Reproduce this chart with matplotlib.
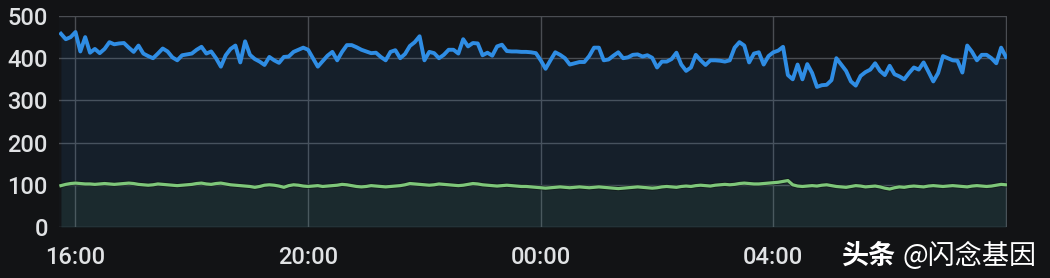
import matplotlib
matplotlib.use("Agg")
import matplotlib.pyplot as plt
import matplotlib.dates as mdates
import pandas as pd

# valores (intervalo de 5 min, a partir de 15:45)
inicio = "2024-01-01 15:45"
azul = [
    458, 445, 450, 462, 416, 450, 413, 422, 412, 422, 438, 433,
    435, 436, 425, 415, 430, 411, 405, 400, 411, 423, 416, 402,
    395, 407, 409, 411, 420, 427, 411, 416, 400, 380, 407, 422,
    430, 390, 440, 408, 398, 392, 384, 403, 395, 389, 403, 404,
    415, 420, 425, 420, 400, 380, 393, 406, 415, 395, 415, 431,
    431, 426, 420, 416, 412, 413, 403, 395, 415, 419, 400, 410,
    429, 438, 452, 395, 415, 412, 400, 408, 420, 420, 411, 445,
    428, 436, 435, 407, 413, 406, 428, 432, 417, 416, 416, 415,
    415, 414, 412, 395, 375, 395, 414, 408, 400, 385, 388, 391,
    391, 405, 425, 425, 395, 397, 406, 414, 400, 402, 408, 409,
    404, 407, 401, 378, 392, 392, 398, 413, 385, 370, 378, 408,
    395, 384, 395, 395, 394, 392, 395, 425, 438, 430, 390, 411,
    414, 385, 405, 414, 418, 427, 360, 350, 385, 350, 386, 365,
    332, 336, 337, 348, 400, 385, 370, 345, 335, 358, 367, 373,
    388, 370, 360, 382, 362, 357, 350, 365, 378, 373, 390, 368,
    345, 365, 405, 400, 395, 394, 366, 430, 415, 395, 408, 408,
    400, 388, 425, 403,
]
verde = [
    98, 101, 103, 104, 103, 102, 102, 101, 102, 103, 102, 101,
    102, 103, 104, 103, 101, 100, 99, 100, 102, 101, 100, 99,
    98, 99, 100, 101, 103, 104, 102, 101, 103, 104, 102, 100,
    99, 98, 97, 96, 94, 96, 99, 100, 99, 97, 94, 98,
    100, 99, 97, 96, 97, 98, 96, 97, 98, 99, 101, 100,
    98, 96, 95, 96, 98, 97, 96, 95, 96, 97, 98, 100,
    103, 102, 101, 100, 99, 100, 102, 101, 100, 99, 98, 99,
    101, 103, 102, 100, 99, 98, 97, 98, 99, 98, 97, 96,
    96, 95, 94, 93, 92, 93, 94, 95, 94, 93, 94, 95,
    94, 93, 94, 95, 94, 93, 92, 91, 92, 93, 94, 95,
    94, 93, 92, 93, 95, 96, 95, 94, 96, 97, 96, 98,
    99, 98, 97, 99, 100, 101, 100, 101, 103, 104, 103, 102,
    102, 103, 104, 105, 106, 108, 110, 100, 97, 96, 97, 98,
    97, 99, 100, 98, 96, 95, 94, 96, 98, 97, 95, 96,
    97, 95, 92, 90, 93, 95, 94, 96, 97, 96, 95, 97,
    98, 97, 96, 97, 98, 97, 96, 95, 97, 98, 97, 96,
    97, 99, 101, 100,
]
y_ticks = [0, 100, 200, 300, 400, 500]

tempos = pd.date_range(inicio, periods=len(azul), freq="5min")
fim = tempos[-1]

FUNDO = "#121315"
GRADE = "#4a4d52"
TEXTO = "#e0e2e4"

fig = plt.figure(figsize=(10.5, 2.78), dpi=100, facecolor=FUNDO)
ax = fig.add_axes([0.0562, 0.1835, 0.9028, 0.7589])
ax.set_facecolor("#131518")

ax.fill_between(tempos, azul, 0, color="#2f7fd0", alpha=0.10, lw=0)
ax.fill_between(tempos, verde, 0, color="#73bf69", alpha=0.07, lw=0)
ax.plot(tempos, verde, color="#0d1410", lw=3.6, alpha=0.6)
ax.plot(tempos, azul, color="#2f8de4", lw=2.8, solid_joinstyle="round")
ax.plot(tempos, verde, color="#7ec77a", lw=2.3, solid_joinstyle="round")

ax.set_ylim(0, 500)
ax.set_yticks(y_ticks)
ax.set_xlim(tempos[0] - pd.Timedelta(minutes=2), fim + pd.Timedelta(minutes=1))
ax.xaxis.set_major_locator(mdates.HourLocator(byhour=range(0, 24, 4)))


def rotulo_hora(x, pos):
    # o último rótulo (08:00) fica escondido pela marca d'água
    d = mdates.num2date(x)
    if d.replace(tzinfo=None) >= fim.to_pydatetime():
        return ""
    return d.strftime("%H:%M")


ax.xaxis.set_major_formatter(plt.FuncFormatter(rotulo_hora))

ax.grid(True, color=GRADE, lw=1.0)
ax.set_axisbelow(True)
for s in ax.spines.values():
    s.set_visible(False)

ax.tick_params(axis="both", length=0, colors=TEXTO, labelsize=17)
ax.tick_params(axis="y", pad=8)
ax.tick_params(axis="x", pad=14)
for lbl in ax.get_xticklabels() + ax.get_yticklabels():
    lbl.set_fontfamily("Roboto")
    lbl.set_fontweight("medium")

# marca d'água
fig.text(0.802, 0.05, "头条", color="white", fontsize=19.5, fontweight="bold",
         family=["Noto Sans CJK SC", "DejaVu Sans"])
fig.text(0.860, 0.05, "@闪念基因", color="white", fontsize=19.5,
         family=["Noto Sans CJK SC", "DejaVu Sans"])

plt.savefig("out.png", dpi=100, facecolor=FUNDO)
